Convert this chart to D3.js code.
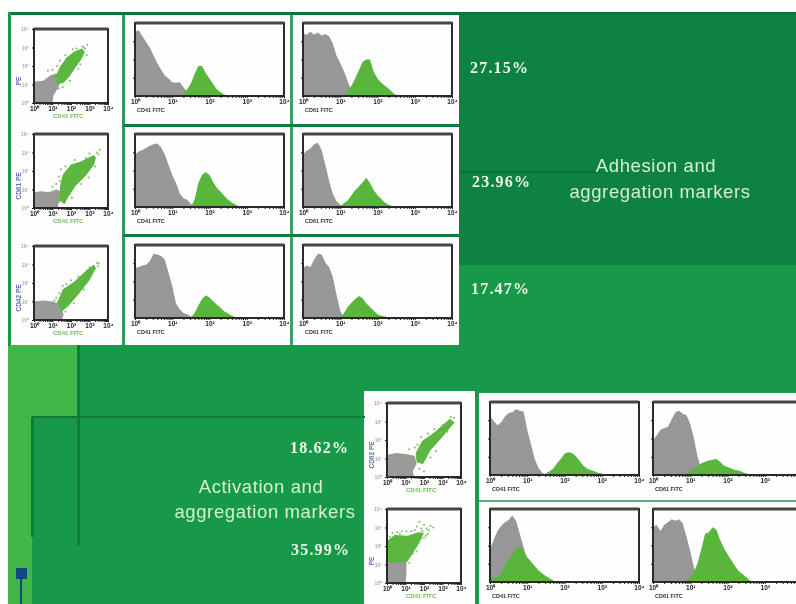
<!DOCTYPE html>
<html>
<head>
<meta charset="utf-8">
<script src="https://cdn.jsdelivr.net/npm/d3@7"></script>
<style>
html, body { margin: 0; padding: 0; background: #fff; overflow: hidden; }
svg { display: block; }
</style>
</head>
<body>
<div id="chart"></div>
<script>
// histogram heights (% of frame), one value per 0.1 decade. gray starts at 10^0
var histGrayA1 = [88,90,82,74,66,55,45,36,28,24,19,18,19,12,6,2,0];
var histGreenA1 = [0,3,9,17,30,41,41,31,24,16,9,5,2,0];
var histGrayA2 = [86,84,88,84,87,83,85,82,72,55,45,34,20,8,2,0];
var histGreenA2 = [0,6,14,24,35,47,50,50,33,24,18,14,10,5,1,0];
var histGrayB1 = [72,76,78,81,84,86,87,82,72,58,44,33,19,12,10,4,1,0];
var histGreenB1 = [0,10,33,44,48,44,34,26,21,15,10,6,3,1,0];
var histGrayB2 = [72,77,80,86,88,78,58,36,18,8,3,1,0];
var histGreenB2 = [1,5,9,16,23,28,34,40,33,23,16,11,6,3,1,0];
var histGrayC1 = [68,70,72,73,78,88,87,85,80,62,44,20,12,7,5,2,0];
var histGreenC1 = [0,7,17,26,31,28,23,18,14,9,6,3,1,0];
var histGrayC2 = [68,72,70,80,88,87,76,70,56,32,10,0];
var histGreenC2 = [0,7,15,21,26,30,27,20,15,10,5,3,2,1,0];
var histGrayD1 = [80,74,68,72,80,85,86,90,88,87,62,42,22,10,3,0];
var histGreenD1 = [0,2,5,9,16,22,29,31,30,26,20,13,9,7,5,3,2,0];
var histGrayD2 = [48,54,62,64,66,76,86,88,84,82,70,50,24,8,0];
var histGreenD2 = [0,2,5,9,12,16,18,20,21,22,18,13,11,9,7,6,4,2,1,0];
var histGrayE1 = [45,58,70,77,82,85,91,84,66,48,30,12,0];
var histGreenE1 = [3,5,7,11,22,31,38,46,50,42,34,28,22,16,12,8,5,2,0];
var histGrayE2 = [76,78,70,78,82,86,84,86,80,62,42,20,6,0];
var histGreenE2 = [0,2,6,14,26,46,66,68,75,72,58,47,38,30,22,15,11,7,2,0];

// decade where each green peak begins
var greenStartA = [1.2, 1.1];
var greenStartB = [1.5, 1.0];
var greenStartC = [1.5, 1.0];
var greenStartD = [1.4, 0.8];
var greenStartE = [0.0, 0.8];

var decades = [0, 1, 2, 3, 4];
var tickLabels = ["10\u2070", "10\u00b9", "10\u00b2", "10\u00b3", "10\u2074"];
var percentLabels = ["27.15%", "23.96%", "17.47%", "18.62%", "35.99%"];
var histAxisLabels = ["CD41 FITC", "CD61 FITC", "CD41 FITC", "CD61 FITC", "CD41 FITC", "CD61 FITC", "CD41 FITC", "CD61 FITC", "CD41 FITC", "CD61 FITC"];
var scatterXLabel = "CD41 FITC";
var scatterYLabels = ["PE", "CD61 PE", "CD42 PE", "CD62 PE", "PE"];

// scatter plots, [log x, log y]: outline of dense gray / green clouds, then loose events
var grayOutline1 = [[0,0],[0,1.15],[0.5,1.2],[0.9,1.5],[1.2,1.6],[1.5,1.4],[1.3,0.8],[1.05,0.4],[1,0]];
var greenOutline1 = [[1.15,1.4],[1.4,1.95],[1.75,2.45],[2.2,2.8],[2.6,2.95],[2.75,2.75],[2.55,2.35],[2.2,1.85],[1.9,1.4],[1.6,1.1],[1.25,1]];
var greenEvents1 = [[2.88,3.15],[2.7,3],[2.62,3.05],[1,1.8],[0.75,1.75],[1.25,2],[1.4,2.3],[2.3,2.95],[2.85,2.6],[2.5,2.1],[1.95,1.2],[1.55,0.85],[1.05,1.25],[1.35,0.8],[2.1,2.9],[1.7,2.6],[2.75,2.95],[2.4,1.85]];
var grayOutline2 = [[0,0],[0,0.85],[0.4,0.9],[0.8,0.85],[1.2,1],[1.45,0.9],[1.45,0.4],[1.3,0.2],[1.3,0]];
var greenOutline2 = [[1.4,1.15],[1.55,1.8],[2,2.35],[2.5,2.5],[3.2,2.85],[3.35,2.75],[3.25,2.35],[2.8,1.75],[2.25,1.2],[1.85,0.6],[1.65,0.2],[1.4,0.4]];
var greenEvents2 = [[3.55,3.15],[3.4,3],[3.48,2.9],[1,1.15],[1.2,1.3],[1.35,1.7],[1.3,0.55],[1.2,0.35],[1.95,0.75],[2.05,0.55],[2.55,1.3],[2.95,1.65],[3,2.95],[2.2,2.6],[1.7,2.25],[1.4,1.45],[2.8,2.7],[3.3,2.25],[1.45,2.1]];
var grayOutline3 = [[0,0],[0,1],[0.5,1.05],[1,1],[1.3,0.9],[1.5,0.55],[1.6,0.3],[1.5,0]];
var greenOutline3 = [[1.25,0.95],[1.55,1.65],[2.15,2.05],[2.85,2.7],[3.25,3],[3.35,2.8],[3,2.15],[2.45,1.45],[1.9,0.8],[1.5,0.45]];
var greenEvents3 = [[3.5,3.05],[3.4,3.1],[3.45,2.9],[1.55,1.85],[1.75,1.95],[1.2,1.2],[1.1,1.05],[1.7,0.45],[2.15,0.9],[2.7,1.65],[2.4,2.35],[3,2.85],[2,2.15],[1.35,1.45]];
var grayOutline4 = [[0,0],[0,1.2],[0.5,1.3],[1,1.25],[1.5,1.15],[1.6,0.7],[1.4,0.35],[1.45,0]];
var greenOutline4 = [[1.55,1.3],[1.9,1.95],[2.55,2.4],[3.4,3.15],[3.65,2.95],[2.9,2.05],[2.35,1.45],[1.95,0.7],[1.6,0.8]];
var greenEvents4 = [[3.62,3.2],[3.45,3.25],[1.2,1.5],[1.5,1.6],[1.45,0.9],[1.75,0.45],[2,0.3],[2.35,1.05],[2.65,1.4],[2.2,2.35],[2.55,2.6],[3,2.8],[3.25,2.45],[1.85,2.15],[1.65,1.75],[2.95,2.4]];
var grayOutline5 = [[0,0],[0,1.2],[1.05,1.2],[1.05,0.5],[1,0]];
var greenOutline5 = [[0.05,1.1],[0.05,2.3],[0.4,2.6],[1.1,2.55],[1.7,2.75],[2,2.7],[1.65,2],[1.1,1.15]];
var greenEvents5 = [[2.35,3.1],[1.75,3.3],[2.2,2.65],[2,2.45],[1.5,1.85],[2.5,3],[2.15,2.95],[1.85,2.95],[1.3,2.8],[0.8,2.8],[0.55,2.75],[0.3,2.7],[1.25,1.45],[1.4,1.6],[1.75,2.2],[1.85,2.4],[1.9,2.8],[2.25,2.85],[1.6,3.05],[2,3.15],[0.15,2.5],[1.05,2.8],[1.5,2.85],[1.6,1.7],[1.2,1.1],[2.1,2.55],[0.7,2.65]];

var histPlots = [
    { gray: histGrayA1, green: histGreenA1, start: greenStartA[0], col: 0, row: 0 },
    { gray: histGrayA2, green: histGreenA2, start: greenStartA[1], col: 1, row: 0 },
    { gray: histGrayB1, green: histGreenB1, start: greenStartB[0], col: 0, row: 1 },
    { gray: histGrayB2, green: histGreenB2, start: greenStartB[1], col: 1, row: 1 },
    { gray: histGrayC1, green: histGreenC1, start: greenStartC[0], col: 0, row: 2 },
    { gray: histGrayC2, green: histGreenC2, start: greenStartC[1], col: 1, row: 2 },
    { gray: histGrayD1, green: histGreenD1, start: greenStartD[0], col: 2, row: 3 },
    { gray: histGrayD2, green: histGreenD2, start: greenStartD[1], col: 3, row: 3 },
    { gray: histGrayE1, green: histGreenE1, start: greenStartE[0], col: 2, row: 4 },
    { gray: histGrayE2, green: histGreenE2, start: greenStartE[1], col: 3, row: 4 }
];
var scatterPlots = [
    { gray: grayOutline1, green: greenOutline1, events: greenEvents1, x: 34, y: 29 },
    { gray: grayOutline2, green: greenOutline2, events: greenEvents2, x: 34, y: 134 },
    { gray: grayOutline3, green: greenOutline3, events: greenEvents3, x: 34, y: 246 },
    { gray: grayOutline4, green: greenOutline4, events: greenEvents4, x: 387, y: 403 },
    { gray: grayOutline5, green: greenOutline5, events: greenEvents5, x: 387, y: 509 }
];

var histCols = [135, 303, 490, 653],
    histRows = [23, 134, 245, 402, 509],
    histW = 149, histH = 73, scatW = 74, scatH = 74;

var svg = d3.select("#chart").append("svg")
    .attr("width", 796)
    .attr("height", 604);

var defs = svg.append("defs");
defs.append("filter").attr("id", "soft")
    .attr("x", "-5%").attr("y", "-5%").attr("width", "110%").attr("height", "110%")
    .append("feGaussianBlur").attr("stdDeviation", 0.5);
defs.append("clipPath").attr("id", "page").append("rect").attr("width", 796).attr("height", 604);

function block(g, x, y, w, h, color) {
    g.append("rect").attr("x", x).attr("y", y).attr("width", w).attr("height", h).attr("fill", color);
}

var bg = svg.append("g").attr("filter", "url(#soft)");
block(bg, 8, 345, 788, 259, "#43b649");
block(bg, 78, 345, 718, 259, "#14994a");
block(bg, 32, 417, 60, 187, "#14994a");
block(bg, 459, 265, 337, 80, "#14994a");
block(bg, 459, 13, 337, 252, "#0f8243");
block(bg, 8, 12, 788, 3, "#087538");
block(bg, 8, 12, 3, 334, "#149a4a");

// white panels + the green rules between them
block(bg, 11, 15, 448, 330, "#fdfefd");
block(bg, 122, 15, 3, 330, "#2f9a58");
block(bg, 290, 15, 3, 330, "#3f9f65");
block(bg, 123, 124, 336, 3, "#0c7d3e");
block(bg, 123, 234, 336, 3, "#0c7d3e");
block(bg, 364, 391, 111, 213, "#fdfefd");
block(bg, 479, 393, 317, 211, "#fdfefd");
block(bg, 479, 500, 317, 2, "#55ad72");

// darker guide lines
block(bg, 77, 345, 3, 200, "#0c7c3a");
block(bg, 32, 416, 333, 2, "#0b7c39");
block(bg, 31, 417, 3, 120, "#0d7d3b");
block(bg, 460, 171, 140, 2, "#0a7238");
block(bg, 16, 568, 11, 11, "#0c4a80");
block(bg, 20, 579, 2, 25, "#0c4a80");

function drawFrame(g, w, h) {
    g.append("rect").attr("width", w).attr("height", h)
        .attr("fill", "none").attr("stroke", "#2b2b2b").attr("stroke-width", 2);
    g.append("line").attr("x1", 0).attr("x2", w).attr("y1", 0).attr("y2", 0)
        .attr("stroke", "#444").attr("stroke-width", 3);
}

function xAxisTicks(x, size, shown) {
    var minor = [];
    decades.slice(0, 4).forEach(function(d) {
        [0.3, 0.48, 0.6, 0.7, 0.78, 0.85, 0.9, 0.95].forEach(function(m) { minor.push(d + m); });
    });
    return d3.axisBottom(x)
        .tickValues(shown.concat(minor))
        .tickSize(size)
        .tickPadding(1)
        .tickFormat(function(d) { return shown.indexOf(d) >= 0 ? tickLabels[d] : ""; });
}

function styleAxis(a) {
    a.select(".domain").remove();
    a.selectAll("line").attr("stroke", "#222");
    a.selectAll("text").style("font-family", "Liberation Sans").style("font-size", "6.5px")
        .style("font-weight", "bold").attr("fill", "#222");
}

var plots = svg.append("g").attr("clip-path", "url(#page)").append("g").attr("filter", "url(#soft)");

histPlots.forEach(function(d, i) {
    var g = plots.append("g")
        .attr("transform", "translate(" + histCols[d.col] + "," + histRows[d.row] + ")");
    var x = d3.scaleLinear().domain([0, 4]).range([0, histW]);
    var y = d3.scaleLinear().domain([0, 100]).range([histH, 0]);
    var area = d3.area()
        .x(function(v) { return x(v[0]); })
        .y0(histH)
        .y1(function(v) { return y(v[1]); });

    g.append("path")
        .attr("d", area(d.gray.map(function(v, j) { return [j / 10, v]; })))
        .attr("fill", "#979797");
    g.append("path")
        .attr("d", area(d.green.map(function(v, j) { return [d.start + j / 10, v]; })))
        .attr("fill", "#5ab53e");

    drawFrame(g, histW, histH);
    // the right column runs off the page, so its last decade has no label
    var shown = d.col == 3 ? decades.slice(0, 4) : decades;
    g.append("g").attr("transform", "translate(0," + histH + ")")
        .call(xAxisTicks(x, 2, shown))
        .call(styleAxis);
    g.append("g")
        .call(d3.axisLeft(y).tickValues([25, 50, 75]).tickSize(2).tickFormat(""))
        .call(styleAxis);
    g.append("text").attr("x", 2).attr("y", histH + 16)
        .style("font-family", "Liberation Sans").style("font-size", "5.5px").style("font-weight", "bold")
        .attr("fill", "#333")
        .text(histAxisLabels[i]);
});

scatterPlots.forEach(function(d, i) {
    var g = plots.append("g").attr("transform", "translate(" + d.x + "," + d.y + ")");
    var x = d3.scaleLinear().domain([0, 4]).range([0, scatW]);
    var y = d3.scaleLinear().domain([0, 4]).range([scatH, 0]);
    var outline = d3.line()
        .x(function(v) { return x(v[0]); })
        .y(function(v) { return y(v[1]); })
        .curve(d3.curveLinearClosed);

    g.append("path").attr("d", outline(d.gray)).attr("fill", "#9a9a9a");
    g.append("path").attr("d", outline(d.green)).attr("fill", "#5cb63f");
    g.selectAll("circle").data(d.events).enter().append("circle")
        .attr("cx", function(v) { return x(v[0]); })
        .attr("cy", function(v) { return y(v[1]); })
        .attr("r", 1)
        .attr("fill", "#74c25a");

    drawFrame(g, scatW, scatH);
    g.append("g").attr("transform", "translate(0," + scatH + ")")
        .call(xAxisTicks(x, 2, decades))
        .call(styleAxis);
    g.append("g")
        .call(d3.axisLeft(y).tickValues(decades).tickSize(2)
            .tickFormat(function(v) { return tickLabels[v]; }))
        .call(styleAxis)
        .selectAll("text").attr("fill", "#aaa").style("font-size", "5px");
    g.append("text").attr("x", scatW / 2 - 18).attr("y", scatH + 15)
        .style("font-family", "Liberation Sans").style("font-size", "6px").style("font-weight", "bold")
        .attr("fill", "#6dbb55")
        .text(scatterXLabel);
    g.append("text")
        .attr("transform", "translate(-13," + (scatH - 22) + ") rotate(-90)")
        .attr("text-anchor", "middle")
        .style("font-family", "Liberation Sans").style("font-size", "6.5px").style("font-weight", "bold")
        .attr("fill", "#5a6fb8")
        .text(scatterYLabels[i]);
});

var labels = svg.append("g").attr("filter", "url(#soft)");

var percentAt = [[470, 73], [472, 187], [471, 294], [290, 453], [291, 555]];
percentAt.forEach(function(p, i) {
    labels.append("text").attr("x", p[0]).attr("y", p[1])
        .style("font-family", "Liberation Serif").style("font-size", "16px").style("font-weight", "bold")
        .style("letter-spacing", "1.2px")
        .attr("fill", "#f2f9ea")
        .text(percentLabels[i]);
});

var captions = [
    ["Adhesion and", 656, 172], ["aggregation markers", 660, 198],
    ["Activation and", 261, 493], ["aggregation markers", 265, 518]
];
captions.forEach(function(c) {
    labels.append("text").attr("x", c[1]).attr("y", c[2])
        .attr("text-anchor", "middle")
        .style("font-family", "Liberation Sans").style("font-size", "18.5px")
        .style("letter-spacing", "0.6px")
        .attr("fill", "#d6f0d0")
        .text(c[0]);
});
</script>
</body>
</html>
